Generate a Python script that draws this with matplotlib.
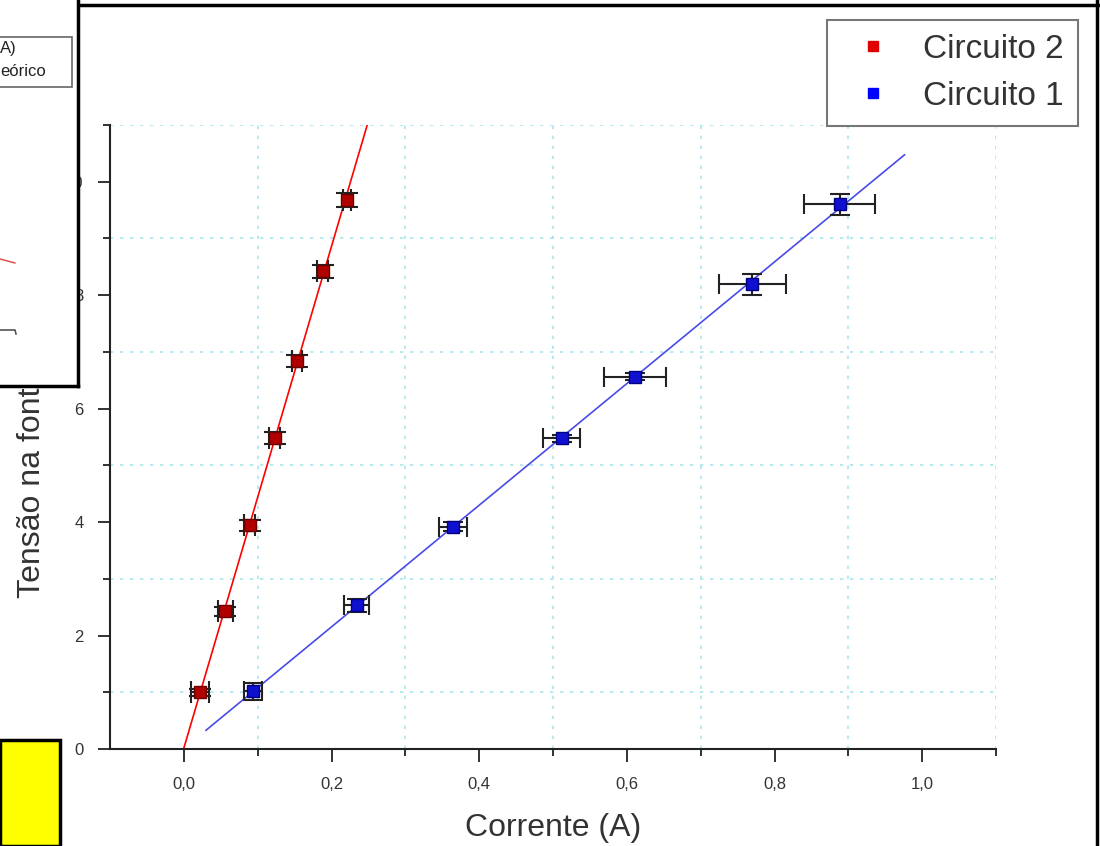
import matplotlib
matplotlib.use('Agg')
import matplotlib.pyplot as plt
import numpy as np
from matplotlib.ticker import FixedLocator
from matplotlib.patches import Rectangle
from matplotlib.lines import Line2D

plt.rcParams['font.family'] = ['Liberation Sans', 'DejaVu Sans']

# --- data ---
c2_i = [0.022, 0.056, 0.089, 0.123, 0.153, 0.188, 0.221]
c2_v = [1.00, 2.43, 3.94, 5.48, 6.84, 8.42, 9.68]
c2_ierr = [0.012, 0.010, 0.008, 0.007, 0.007, 0.007, 0.006]
c2_verr = [0.06, 0.08, 0.10, 0.10, 0.10, 0.12, 0.12]

c1_i = [0.094, 0.234, 0.364, 0.512, 0.611, 0.770, 0.888]
c1_v = [1.02, 2.53, 3.92, 5.48, 6.56, 8.19, 9.60]
c1_ierr = [0.012, 0.017, 0.019, 0.025, 0.042, 0.045, 0.048]
c1_verr = [0.15, 0.12, 0.08, 0.06, 0.06, 0.18, 0.18]

c2_fit_range = [0.0, 0.26]
c1_fit_range = [0.03, 0.976]

x_ticks = [0.0, 0.2, 0.4, 0.6, 0.8, 1.0]
x_ticklabels = ['0,0', '0,2', '0,4', '0,6', '0,8', '1,0']
x_minor = [0.1, 0.3, 0.5, 0.7, 0.9, 1.1]
y_ticks = [0, 2, 4, 6, 8, 10]
y_minor = [1, 3, 5, 7, 9, 11]

# fragments of the window lying on top of the chart
frag_legend_text = ['A)', 'eórico']
frag_red_x, frag_red_y = [0, 15], [259, 263]
frag_gray_x, frag_gray_y = [0, 15, 16], [330, 330, 334]

fig = plt.figure(figsize=(11, 8.46), dpi=100)
ax = fig.add_axes([0.1, 0.1147, 0.8055, 0.7375])

# --- main plot ---
for xs, ys, col in [(c2_i, c2_v, 'red'), (c1_i, c1_v, '#4a4ae8')]:
    k, b = np.polyfit(xs, ys, 1)
    rng = c2_fit_range if col == 'red' else c1_fit_range
    fx = np.array(rng)
    ax.plot(fx, k * fx + b, color=col, lw=1.2, zorder=2)

ax.errorbar(c2_i, c2_v, xerr=c2_ierr, yerr=c2_verr, fmt='s', ms=8,
            mfc='#b00000', mec='#6a0000', ecolor='#222222', elinewidth=1.5,
            capsize=8, capthick=1.5, zorder=3)
ax.errorbar(c1_i, c1_v, xerr=c1_ierr, yerr=c1_verr, fmt='s', ms=8,
            mfc='#1010d0', mec='#000080', ecolor='#222222', elinewidth=1.5,
            capsize=7, capthick=1.5, zorder=3)

ax.set_xlim(-0.1, 1.1)
ax.set_ylim(0, 11)
ax.set_xticks(x_ticks)
ax.set_xticklabels(x_ticklabels)
ax.set_yticks(y_ticks)
ax.xaxis.set_minor_locator(FixedLocator(x_minor))
ax.yaxis.set_minor_locator(FixedLocator(y_minor))
ax.tick_params(which='major', length=9, width=1.3, color='#222222',
               labelsize=12, labelcolor='#333333')
ax.tick_params(axis='x', which='major', pad=11)
ax.tick_params(axis='y', which='major', pad=10)
ax.tick_params(which='minor', length=5, width=1.3, color='#222222')
ax.grid(which='minor', color='#a8e6ec', linestyle=(0, (2, 4)), lw=1.2)

ax.spines['top'].set_visible(False)
ax.spines['right'].set_visible(False)
for s in ['left', 'bottom']:
    ax.spines[s].set_linewidth(1.5)
    ax.spines[s].set_color('#222222')

ax.set_xlabel('Corrente (A)', fontsize=23, color='#333333', labelpad=15)
ax.set_ylabel('Tensão na fonte (V)', fontsize=23, color='#333333')
ax.yaxis.set_label_coords(-0.071, 0.466)

handles = [Line2D([], [], marker='s', ls='', color='#e00000', ms=7),
           Line2D([], [], marker='s', ls='', color='#0000ff', ms=7)]
leg = fig.legend(handles, ['Circuito 2', 'Circuito 1'], loc='upper right',
                 bbox_to_anchor=(1078 / 1100, 1 - 20 / 846), fontsize=24,
                 frameon=True, fancybox=False, edgecolor='#555555',
                 borderpad=0.42, handlelength=1.92, handletextpad=0.54,
                 labelspacing=0.48, borderaxespad=0)
leg.get_frame().set_linewidth(1.5)
for t in leg.get_texts():
    t.set_color('#333333')

# --- overlapping window at top left ---
pax = fig.add_axes([0, 1 - 386 / 846, 78 / 1100, 386 / 846])
pax.set_zorder(5)
pax.set_xlim(0, 78)
pax.set_ylim(386, 0)
pax.set_xticks([])
pax.set_yticks([])
for s in ['top', 'left']:
    pax.spines[s].set_visible(False)
for s in ['right', 'bottom']:
    pax.spines[s].set_linewidth(2.5)
    pax.spines[s].set_color('black')
pax.add_patch(Rectangle((-20, 37), 92, 50, facecolor='white',
                        edgecolor='#666666', lw=1.2))
pax.text(0, 48, frag_legend_text[0], fontsize=12, va='center', ha='left', color='#222222')
pax.text(0, 72, frag_legend_text[1], fontsize=12, va='center', ha='left', color='#222222')
pax.plot(frag_red_x, frag_red_y, color='#e04040', lw=1)
pax.plot(frag_gray_x, frag_gray_y, color='#555555', lw=1.2)

# --- yellow box and outer frame ---
fig.patches.append(Rectangle((0, 0), 60 / 1100, 106 / 846, transform=fig.transFigure,
                             facecolor='#ffff00', edgecolor='black', lw=2.5, zorder=6))
fig.lines.append(Line2D([78 / 1100, 1], [1 - 5 / 846, 1 - 5 / 846],
                        transform=fig.transFigure, color='black', lw=2.5))
fig.lines.append(Line2D([1097 / 1100, 1097 / 1100], [0, 1],
                        transform=fig.transFigure, color='black', lw=2.5))

fig.savefig('out.png', dpi=100)
